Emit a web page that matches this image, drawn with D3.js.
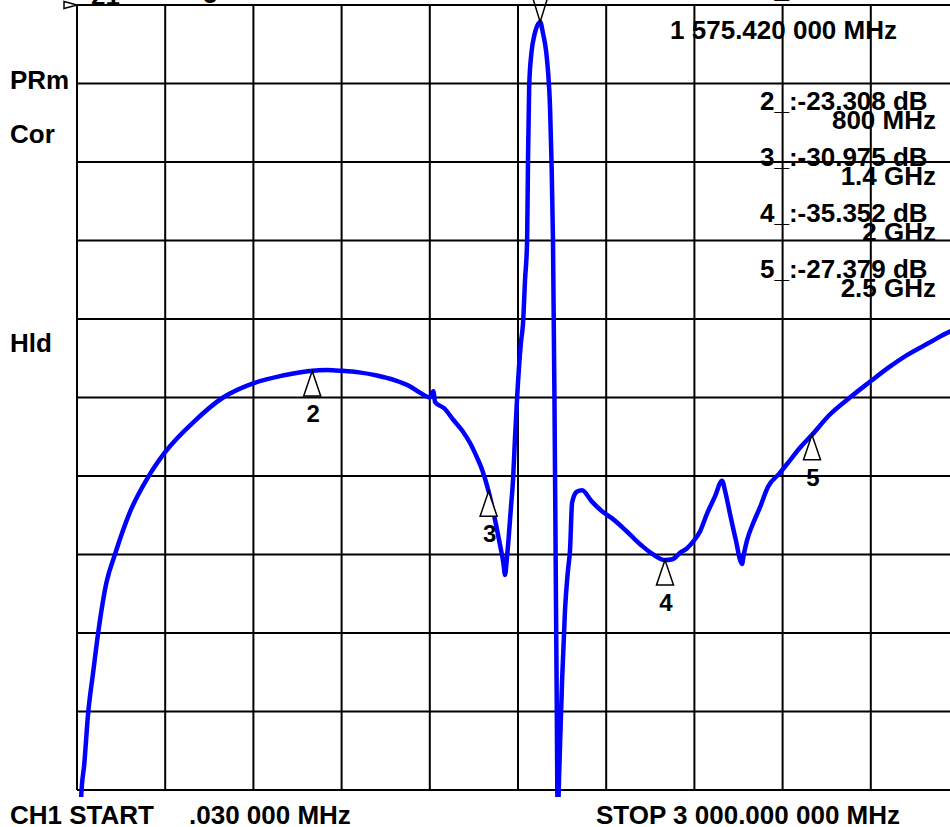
<!DOCTYPE html>
<html>
<head>
<meta charset="utf-8">
<script src="https://cdn.jsdelivr.net/npm/d3@7"></script>
<style>
  body { margin: 0; background: #fff; overflow: hidden; }
  text { font-family: "Liberation Sans", Arial, sans-serif; font-weight: bold; fill: #000; }
</style>
</head>
<body>
<svg id="chart"></svg>
<script>
// sweep settings (MHz / dB)
const startFreq = 0.03;
const stopFreq = 3000;
const refLevel = 0;
const dbPerDiv = 5;
const divisions = 10;

// trace: frequency (MHz) and S21 (dB)
const traceFreq = [
  0.03, 14, 25, 38, 55, 72, 100, 129, 180, 241, 299, 400, 497, 599, 700, 792, 850, 901, 960, 1020,
  1080, 1133, 1167, 1201, 1212, 1218, 1250, 1279, 1310, 1337, 1360, 1378, 1400, 1422, 1440, 1450, 1456, 1462, 1468, 1476,
  1483, 1490, 1497, 1510, 1517, 1524, 1531, 1534, 1538, 1546, 1556, 1566, 1575.42, 1585, 1596, 1602, 1609, 1614, 1619, 1624,
  1628, 1632, 1635, 1640, 1650, 1660, 1670, 1677, 1684, 1700, 1718, 1750, 1789, 1820, 1857, 1890, 1925, 1960, 2000, 2025,
  2051, 2075, 2095, 2120, 2143, 2170, 2194, 2205, 2221, 2240, 2262, 2268, 2279, 2300, 2323, 2350, 2391, 2425, 2459, 2500,
  2560, 2629, 2697, 2760, 2823, 2900, 2969, 3000
];
const traceDb = [
  -62, -50.5, -48.3, -45.1, -42.5, -40.0, -36.8, -35.0, -32.3, -30.1, -28.5, -26.5, -25.0, -24.1, -23.6, -23.31, -23.25, -23.3, -23.4, -23.6,
  -23.9, -24.3, -24.7, -25.0, -24.6, -25.3, -25.7, -26.4, -27.1, -27.9, -28.8, -29.6, -30.975, -32.8, -34.5, -35.5, -36.3, -35.3, -34.0, -32.0,
  -30.3, -27.5, -25.0, -21.5, -20.3, -17.5, -15.0, -10.0, -5.2, -3.0, -1.9, -1.3, -1.08, -1.8, -3.0, -4.2, -6.5, -10.0, -15.0, -25.0,
  -35.0, -45.0, -52.0, -49.0, -43.0, -38.5, -36.0, -34.7, -31.7, -31.0, -30.9, -31.6, -32.3, -32.7, -33.3, -33.9, -34.5, -35.0, -35.352, -35.3,
  -34.9, -34.6, -34.2, -33.5, -32.4, -31.3, -30.3, -31.0, -32.4, -34.0, -35.6, -35.0, -34.1, -33.0, -32.0, -30.7, -29.8, -29.0, -28.2, -27.379,
  -26.1, -25.0, -24.0, -23.1, -22.3, -21.5, -20.8, -20.6
];

// markers
const markerIds = ['1', '2', '3', '4', '5'];
const markerFreq = [1575.42, 800, 1400, 2000, 2500];
const markerDb = [-1.08, -23.308, -30.975, -35.352, -27.379];
const markerDbText = ['-1.081 dB', '-23.308 dB', '-30.975 dB', '-35.352 dB', '-27.379 dB'];
const markerFreqText = ['1 575.420 000 MHz', '800 MHz', '1.4 GHz', '2 GHz', '2.5 GHz'];

// annotation text
const sideLabels = ['PRm', 'Cor', 'Hld'];
const startText = ['CH1 START', '.030 000 MHz'];
const stopText = 'STOP 3 000.000 000 MHz';

const width = 950;
const height = 827;
const plotLeft = 77, plotTop = 5, plotRight = 959, plotBottom = 790;
const fontSize = 26;

const svg = d3.select('#chart')
    .attr('width', width)
    .attr('height', height);

const x = d3.scaleLinear().domain([startFreq, stopFreq]).range([plotLeft, plotRight]);
const y = d3.scaleLinear().domain([refLevel - dbPerDiv * divisions, refLevel]).range([plotBottom, plotTop]);

// graticule
const xGrid = d3.range(divisions + 1).map(i => startFreq + i * (stopFreq - startFreq) / divisions);
const yGrid = d3.range(divisions + 1).map(i => refLevel - i * dbPerDiv);

svg.append('g')
    .selectAll('line')
    .data(xGrid)
    .enter()
    .append('line')
    .attr('x1', d => x(d)).attr('x2', d => x(d))
    .attr('y1', plotTop).attr('y2', plotBottom)
    .attr('stroke', '#000')
    .attr('stroke-width', 2);

svg.append('g')
    .selectAll('line')
    .data(yGrid)
    .enter()
    .append('line')
    .attr('x1', plotLeft).attr('x2', plotRight)
    .attr('y1', d => y(d)).attr('y2', d => y(d))
    .attr('stroke', '#000')
    .attr('stroke-width', 2);

// trace, clipped just outside the graticule
svg.append('clipPath')
    .attr('id', 'plot-clip')
    .append('rect')
    .attr('x', plotLeft)
    .attr('y', 0)
    .attr('width', plotRight - plotLeft)
    .attr('height', plotBottom + 7);

const trace = traceFreq.map((f, i) => [f, traceDb[i]]);
const line = d3.line()
    .x(d => x(d[0]))
    .y(d => y(d[1]))
    .curve(d3.curveMonotoneX);

svg.append('path')
    .datum(trace)
    .attr('d', line)
    .attr('clip-path', 'url(#plot-clip)')
    .attr('fill', 'none')
    .attr('stroke', '#0000ff')
    .attr('stroke-width', 4.5)
    .attr('stroke-linejoin', 'round');

// reference position marker on the left edge
const ry = y(refLevel);
svg.append('path')
    .attr('d', `M${plotLeft - 13},${ry - 3.5}L${plotLeft},${ry}L${plotLeft - 13},${ry + 3.5}Z`)
    .attr('fill', '#fff')
    .attr('stroke', '#000')
    .attr('stroke-width', 1.5);

// marker triangles: the active one (1) points down from above, the rest point up
markerIds.forEach((id, i) => {
    const mx = x(markerFreq[i]);
    const my = y(markerDb[i]);
    if (i === 0) {
        svg.append('path')
            .attr('d', `M${mx - 8},${my - 26}L${mx},${my}L${mx + 8},${my - 26}`)
            .attr('fill', 'none')
            .attr('stroke', '#000')
            .attr('stroke-width', 1.5);
    } else {
        svg.append('path')
            .attr('d', `M${mx},${my}L${mx - 8.5},${my + 25}L${mx + 8.5},${my + 25}Z`)
            .attr('fill', '#fff')
            .attr('stroke', '#000')
            .attr('stroke-width', 1.5);
        svg.append('text')
            .attr('x', mx + 1)
            .attr('y', my + 51)
            .attr('text-anchor', 'middle')
            .attr('font-size', 24)
            .text(id);
    }
});

// marker readouts
const readout = svg.append('g').attr('font-size', fontSize);
markerIds.forEach((id, i) => {
    const base = i === 0 ? -2 : 110 + (i - 1) * 56;
    readout.append('text')
        .attr('x', 760)
        .attr('y', base)
        .text(id + '_:' + markerDbText[i]);
    readout.append('text')
        .attr('x', i === 0 ? 897 : 936)
        .attr('y', i === 0 ? 39 : base + 19)
        .attr('text-anchor', 'end')
        .text(markerFreqText[i]);
});

// header remnants cut off at the top edge
svg.append('text').attr('x', 91).attr('y', 5).attr('font-size', fontSize).text('21');
svg.append('text').attr('x', 203).attr('y', 3).attr('font-size', fontSize).text('5');

// side annotations
const sideY = [89, 143, 352];
svg.append('g')
    .selectAll('text')
    .data(sideLabels)
    .enter()
    .append('text')
    .attr('x', 10)
    .attr('y', (d, i) => sideY[i])
    .attr('font-size', fontSize)
    .text(d => d);

// start / stop line
svg.append('text').attr('x', 10).attr('y', 824).attr('font-size', fontSize).text(startText[0]);
svg.append('text').attr('x', 189).attr('y', 824).attr('font-size', fontSize).text(startText[1]);
svg.append('text').attr('x', 596).attr('y', 824).attr('font-size', fontSize).text(stopText);
</script>
</body>
</html>
